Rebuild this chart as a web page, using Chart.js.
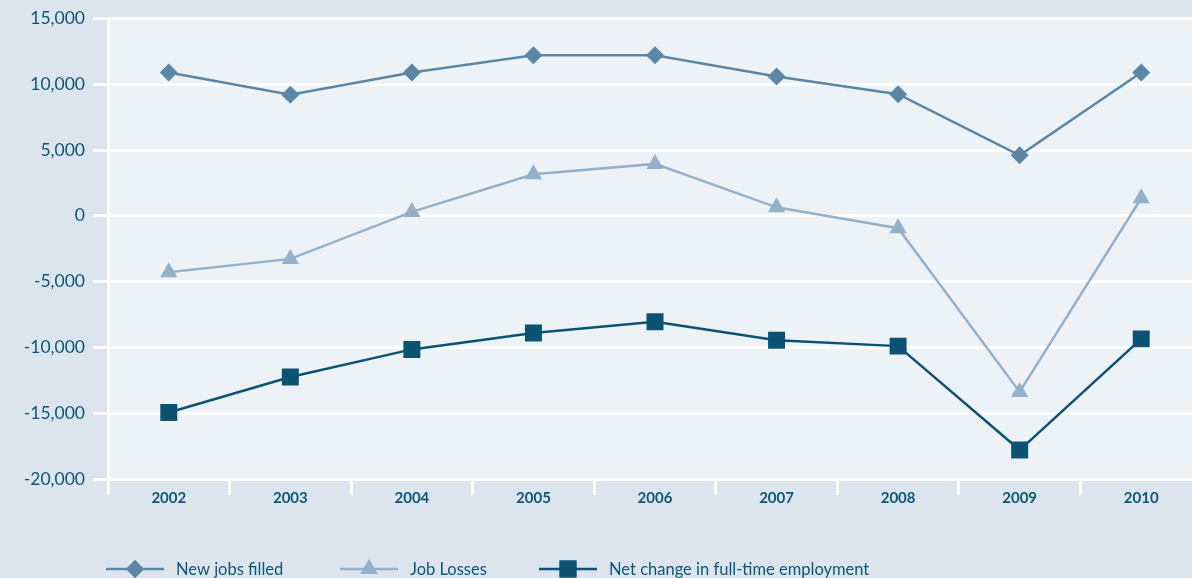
<!DOCTYPE html>
<html><head><meta charset="utf-8">
<script src="https://cdn.jsdelivr.net/npm/chart.js@4/dist/chart.umd.min.js"></script>
<style>
html,body{margin:0;padding:0;background:#dce5ed;overflow:hidden;width:1192px;height:578px;}
#wrap{width:1214px;height:578px;position:relative;}
</style></head>
<body><div id="wrap"><canvas id="c" width="1214" height="578"></canvas></div>
<script>
const years = ['2002','2003','2004','2005','2006','2007','2008','2009','2010'];
const newJobsFilled = [10900, 9200, 10900, 12200, 12200, 10600, 9250, 4600, 10900];
const jobLosses = [-4280, -3270, 300, 3160, 3950, 650, -940, -13380, 1340];
const netChange = [-14950, -12250, -10150, -8900, -8050, -9450, -9900, -17800, -9350];
const yTicks = [15000, 10000, 5000, 0, -5000, -10000, -15000, -20000];

const textColor = '#0e5676';
const FONT = 'Lato, "Open Sans", sans-serif';

const bgPlugin = {
  id: 'bg',
  beforeDraw(chart) {
    const {ctx, chartArea: a} = chart;
    ctx.save();
    ctx.fillStyle = '#dce5ed';
    ctx.fillRect(0, 0, chart.width, chart.height);
    ctx.fillStyle = '#edf2f6';
    ctx.fillRect(a.left, a.top, a.right - a.left, a.bottom - a.top);
    ctx.restore();
  }
};

const legendPlugin = {
  id: 'customLegend',
  afterDraw(chart) {
    const ctx = chart.ctx;
    const xs = [106, 340, 539];
    const y = 569;
    ctx.save();
    chart.data.datasets.forEach((ds, i) => {
      const x0 = xs[i];
      ctx.strokeStyle = ds.borderColor;
      ctx.lineWidth = ds.borderWidth;
      ctx.beginPath(); ctx.moveTo(x0, y); ctx.lineTo(x0 + 58, y); ctx.stroke();
      ctx.fillStyle = ds.pointBackgroundColor;
      ctx.beginPath();
      Chart.helpers.drawPoint(ctx, {pointStyle: ds.pointStyle, rotation: 0, borderWidth: 0, radius: ds.pointRadius}, x0 + 29, y);
      ctx.fill();
      ctx.fillStyle = textColor;
      ctx.font = '16.5px ' + FONT;
      ctx.textBaseline = 'middle';
      ctx.fillText(ds.label, x0 + 70, y + 1);
    });
    ctx.restore();
  }
};

new Chart(document.getElementById('c'), {
  type: 'line',
  data: {
    labels: years,
    datasets: [
      {label: 'New jobs filled', data: newJobsFilled, borderColor: '#5b86a6', backgroundColor: '#5b86a6',
       pointBackgroundColor: '#5b86a6', pointBorderColor: '#5b86a6', pointStyle: 'rectRot', pointRadius: 9, borderWidth: 2.5, pointBorderWidth: 0},
      {label: 'Job Losses', data: jobLosses, borderColor: '#95b1c9', backgroundColor: '#95b1c9',
       pointBackgroundColor: '#95b1c9', pointBorderColor: '#95b1c9', pointStyle: 'triangle', pointRadius: 10, borderWidth: 2.5, pointBorderWidth: 0},
      {label: 'Net change in full-time employment', data: netChange, borderColor: '#0c5373', backgroundColor: '#0c5373',
       pointBackgroundColor: '#0c5373', pointBorderColor: '#0c5373', pointStyle: 'rect', pointRadius: 12, borderWidth: 2.5, pointBorderWidth: 0}
    ]
  },
  options: {
    responsive: false,
    animation: false,
    layout: {padding: {top: 18, left: 0, right: 0, bottom: 0}},
    plugins: {legend: {display: false}, tooltip: {enabled: false}},
    scales: {
      x: {
        offset: true,
        grid: {offset: true, drawOnChartArea: false, drawTicks: true, tickLength: 16, color: '#ffffff', lineWidth: 3},
        border: {display: false},
        ticks: {color: textColor, font: {family: FONT, size: 15, weight: 'bold'}, padding: -6, maxRotation: 0},
        afterFit(s) { s.height = 99; }
      },
      y: {
        min: -20000, max: 15000,
        afterBuildTicks(s) { s.ticks = yTicks.map(v => ({value: v})); },
        grid: {color: '#ffffff', lineWidth: 3, tickLength: 15},
        border: {display: true, color: '#ffffff', width: 3},
        ticks: {color: textColor, font: {family: FONT, size: 17.5}, padding: 8,
                callback: v => v.toLocaleString('en-US')},
        afterFit(s) { s.width = 108; }
      }
    }
  },
  plugins: [bgPlugin, legendPlugin]
});
</script></body></html>
